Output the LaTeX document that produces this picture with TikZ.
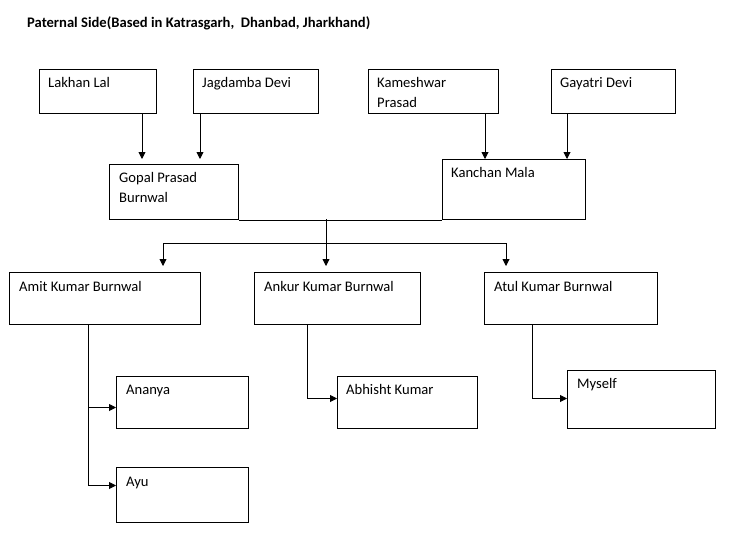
\documentclass[tikz,border=0pt]{standalone}
\usepackage{fontspec}
\setmainfont{Carlito}
\usetikzlibrary{arrows.meta, positioning}

\begin{document}
\begin{tikzpicture}[
    x=1pt, y=-1pt,
    >={Triangle[length=7pt, width=7pt]},
    % Styles for the family tree
    person/.style={draw=black, line width=1pt, fill=white, rectangle, anchor=north west, inner sep=0pt},
    nametext/.style={anchor=base west, inner sep=0pt, align=left, font=\fontsize{14.6}{20}\selectfont},
    link/.style={draw=black, line width=0.9pt},
    descent/.style={link, ->}
]
    \useasboundingbox (0,0) rectangle (736,547);

    % 0. The Title
    \node[anchor=base west, inner sep=0pt, font=\bfseries\fontsize{14.6}{18}\selectfont] (title) at (27,27)
        {Paternal Side(Based in Katrasgarh,\ \ Dhanbad, Jharkhand)};

    % 1. The Grandparents (Top Row)
    \node[person, minimum width=117pt, minimum height=44pt] (lakhan) at (39,69) {};
    \node[person, minimum width=125pt, minimum height=44pt] (jagdamba) at (193,69) {};
    \node[person, minimum width=130pt, minimum height=44pt] (kameshwar) at (368,69) {};
    \node[person, minimum width=124pt, minimum height=44pt] (gayatri) at (551,69) {};
    \node[nametext] (lakhanname) at ([shift={(9,18)}]lakhan.north west) {Lakhan Lal};
    \node[nametext] (jagdambaname) at ([shift={(9,18)}]jagdamba.north west) {Jagdamba Devi};
    % two-line names sit on their last line
    \node[nametext] (kameshwarname) at ([shift={(9,38)}]kameshwar.north west) {Kameshwar\\Prasad};
    \node[nametext] (gayatriname) at ([shift={(9,18)}]gayatri.north west) {Gayatri Devi};

    % 2. The Parents (Second Row)
    \node[person, minimum width=129pt, minimum height=55pt] (gopal) at (109,164) {};
    \node[person, minimum width=143pt, minimum height=60pt] (kanchan) at (442,159) {};
    \node[nametext] (gopalname) at ([shift={(10,38)}]gopal.north west) {Gopal Prasad\\Burnwal};
    \node[nametext] (kanchanname) at ([shift={(9,18)}]kanchan.north west) {Kanchan Mala};

    % Arrows from the grandparents
    \coordinate (lakhanout) at ([xshift=-15pt]lakhan.south east);
    \coordinate (jagdambaout) at ([xshift=7pt]jagdamba.south west);
    \coordinate (kameshwarout) at ([xshift=-14pt]kameshwar.south east);
    \coordinate (gayatriout) at ([xshift=16pt]gayatri.south west);
    \draw[descent, shorten >=5pt] (lakhanout) -- (lakhanout |- gopal.north);
    \draw[descent, shorten >=5pt] (jagdambaout) -- (jagdambaout |- gopal.north);
    \draw[descent] (kameshwarout) -- (kameshwarout |- kanchan.north);
    \draw[descent] (gayatriout) -- (gayatriout |- kanchan.north);

    % 3. The Children (Third Row)
    \node[person, minimum width=191pt, minimum height=52pt] (amit) at (9,272) {};
    \node[person, minimum width=166pt, minimum height=52pt] (ankur) at (254,272) {};
    \node[person, minimum width=173pt, minimum height=52pt] (atul) at (484,272) {};
    \node[nametext] (amitname) at ([shift={(10,19)}]amit.north west) {Amit Kumar Burnwal};
    \node[nametext] (ankurname) at ([shift={(10,19)}]ankur.north west) {Ankur Kumar Burnwal};
    \node[nametext] (atulname) at ([shift={(10,19)}]atul.north west) {Atul Kumar Burnwal};

    % The union line and the split to the children
    \draw[link] (gopal.south east) -- (kanchan.south west);
    \coordinate (union) at (326,219);
    \coordinate (split) at (326,243);
    \coordinate (amitin) at ([xshift=154pt]amit.north west);
    \coordinate (atulin) at ([xshift=22pt]atul.north west);
    \draw[link] (union) -- (split);
    \draw[descent, shorten >=6pt] (split) -| (amitin);
    \draw[descent, shorten >=6pt] (split) -- (split |- ankur.north);
    \draw[descent, shorten >=6pt] (split) -| (atulin);

    % 4. The Grandchildren (Bottom Rows)
    \node[person, minimum width=132pt, minimum height=52pt] (ananya) at (116,376) {};
    \node[person, minimum width=132pt, minimum height=55pt] (ayu) at (116,467) {};
    \node[person, minimum width=140pt, minimum height=52pt] (abhisht) at (337,376) {};
    \node[person, minimum width=148pt, minimum height=58pt] (myself) at (567,370) {};
    \node[nametext] (ananyaname) at ([shift={(10,18)}]ananya.north west) {Ananya};
    \node[nametext] (ayuname) at ([shift={(10,19)}]ayu.north west) {Ayu};
    \node[nametext] (abhishtname) at ([shift={(9,18)}]abhisht.north west) {Abhisht Kumar};
    \node[nametext] (myselfname) at ([shift={(10,18)}]myself.north west) {Myself};

    % Elbow arrows down to the grandchildren
    \coordinate (amitout) at ([xshift=79pt]amit.south west);
    \coordinate (ankurout) at ([xshift=53pt]ankur.south west);
    \coordinate (atulout) at ([xshift=48pt]atul.south west);
    \draw[descent] (amitout) |- ([yshift=-5pt]ananya.west);
    \draw[descent] (amitout) |- ([yshift=9.5pt]ayu.west);
    \draw[descent] (ankurout) |- ([yshift=4pt]abhisht.west);
    \draw[descent] (atulout) |- ([yshift=1pt]myself.west);

\end{tikzpicture}
\end{document}
